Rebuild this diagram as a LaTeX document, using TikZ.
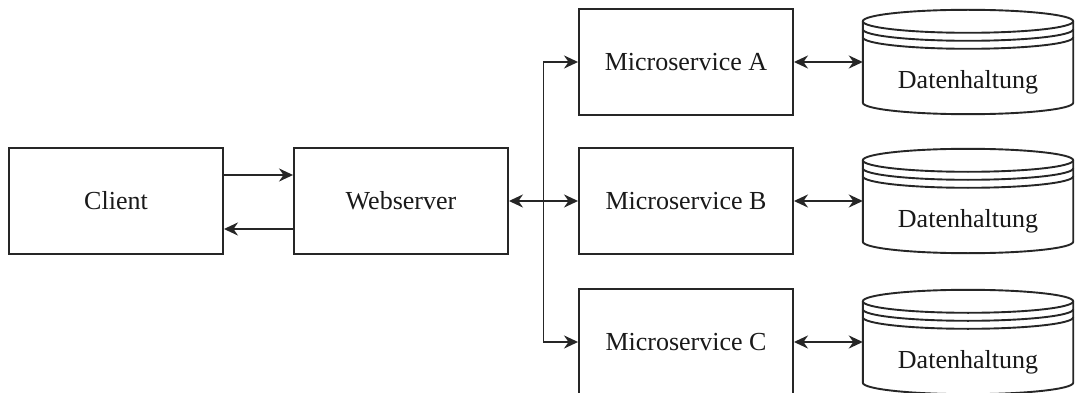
\documentclass[tikz,border=0pt]{standalone}
\usepackage{fontspec}
\setmainfont{Liberation Serif}
\usetikzlibrary{arrows.meta,calc,backgrounds}

\tikzset{
  line/.style={line width=1.9pt, draw=black!85},
  txt/.style={font=\fontsize{26}{31}\selectfont, text=black!90},
  box/.style={line, txt, rectangle, fill=white, minimum width=214pt, minimum height=106pt,
    inner sep=0pt},
  store/.style={rectangle, inner sep=0pt, minimum width=210pt, minimum height=104pt},
  storelabel/.style={txt, inner sep=0pt, yshift=-20pt},
  tip/.tip={Stealth[length=14pt, width=13pt, inset=4.5pt]},
  arr/.style={line, -tip},
  arrs/.style={line, tip-tip},
}

% cylinder-like data store outline drawn around a named store node
\newcommand\storeoutline[1]{%
  \path[line, fill=white] let \p1=(#1.north west), \p2=(#1.south east),
      \n1={0.5*(\x2-\x1)} in
    (\x1,\y1-11.5pt) arc[start angle=180, end angle=0, x radius=\n1, y radius=11.5pt]
    -- (\x2,\y2+11.5pt) arc[start angle=0, end angle=-180, x radius=\n1, y radius=11.5pt]
    -- cycle;
  \draw[line] let \p1=(#1.north west), \p2=(#1.south east),
      \n1={0.5*(\x2-\x1)} in
    (\x1,\y1-11.5pt) arc[start angle=180, end angle=360, x radius=\n1, y radius=11.5pt]
    (\x1,\y1-19.5pt) arc[start angle=180, end angle=360, x radius=\n1, y radius=11.5pt]
    (\x1,\y1-27.5pt) arc[start angle=180, end angle=360, x radius=\n1, y radius=11.5pt];
}

\begin{document}
\begin{tikzpicture}[x=1pt, y=-1pt]
  \clip (0,0) rectangle (1076,393);

  % client and web server
  \node[box] (client) at (116,201) {Client};
  \node[box] (web) at (401,201) {Webserver};

  % microservices
  \node[box] (msA) at (686,62) {Microservice A};
  \node[box] (msB) at (686,201) {Microservice B};
  \node[box] (msC) at (686,342) {Microservice C};

  % data stores
  \node[store, label={[storelabel]center:Datenhaltung}] (dbA) at (968,62) {};
  \node[store, label={[storelabel]center:Datenhaltung}] (dbB) at (968,201) {};
  \node[store, label={[storelabel]center:Datenhaltung}] (dbC) at (968,342) {};
  \begin{scope}[on background layer]
    \fill[white] (0,0) rectangle (1076,393);
    \storeoutline{dbA}
    \storeoutline{dbB}
    \storeoutline{dbC}
  \end{scope}

  % request / response between client and web server
  \draw[arr] ($(client.east)+(0,-26)$) -- ($(web.west)+(0,-26)$);
  \draw[arr] ($(web.west)+(0,28)$) -- ($(client.east)+(0,28)$);

  % fan-out from the web server to the services
  \coordinate (j) at ($(web.east)!0.5!(msB.west)$);
  \draw[arrs] (web.east) -- (msB.west);
  \draw[arr] (j) |- (msA.west);
  \draw[arr] (j) |- (msC.west);

  % services to their data stores
  \draw[arrs] (msA.east) -- (dbA.west);
  \draw[arrs] (msB.east) -- (dbB.west);
  \draw[arrs] (msC.east) -- (dbC.west);
\end{tikzpicture}
\end{document}
